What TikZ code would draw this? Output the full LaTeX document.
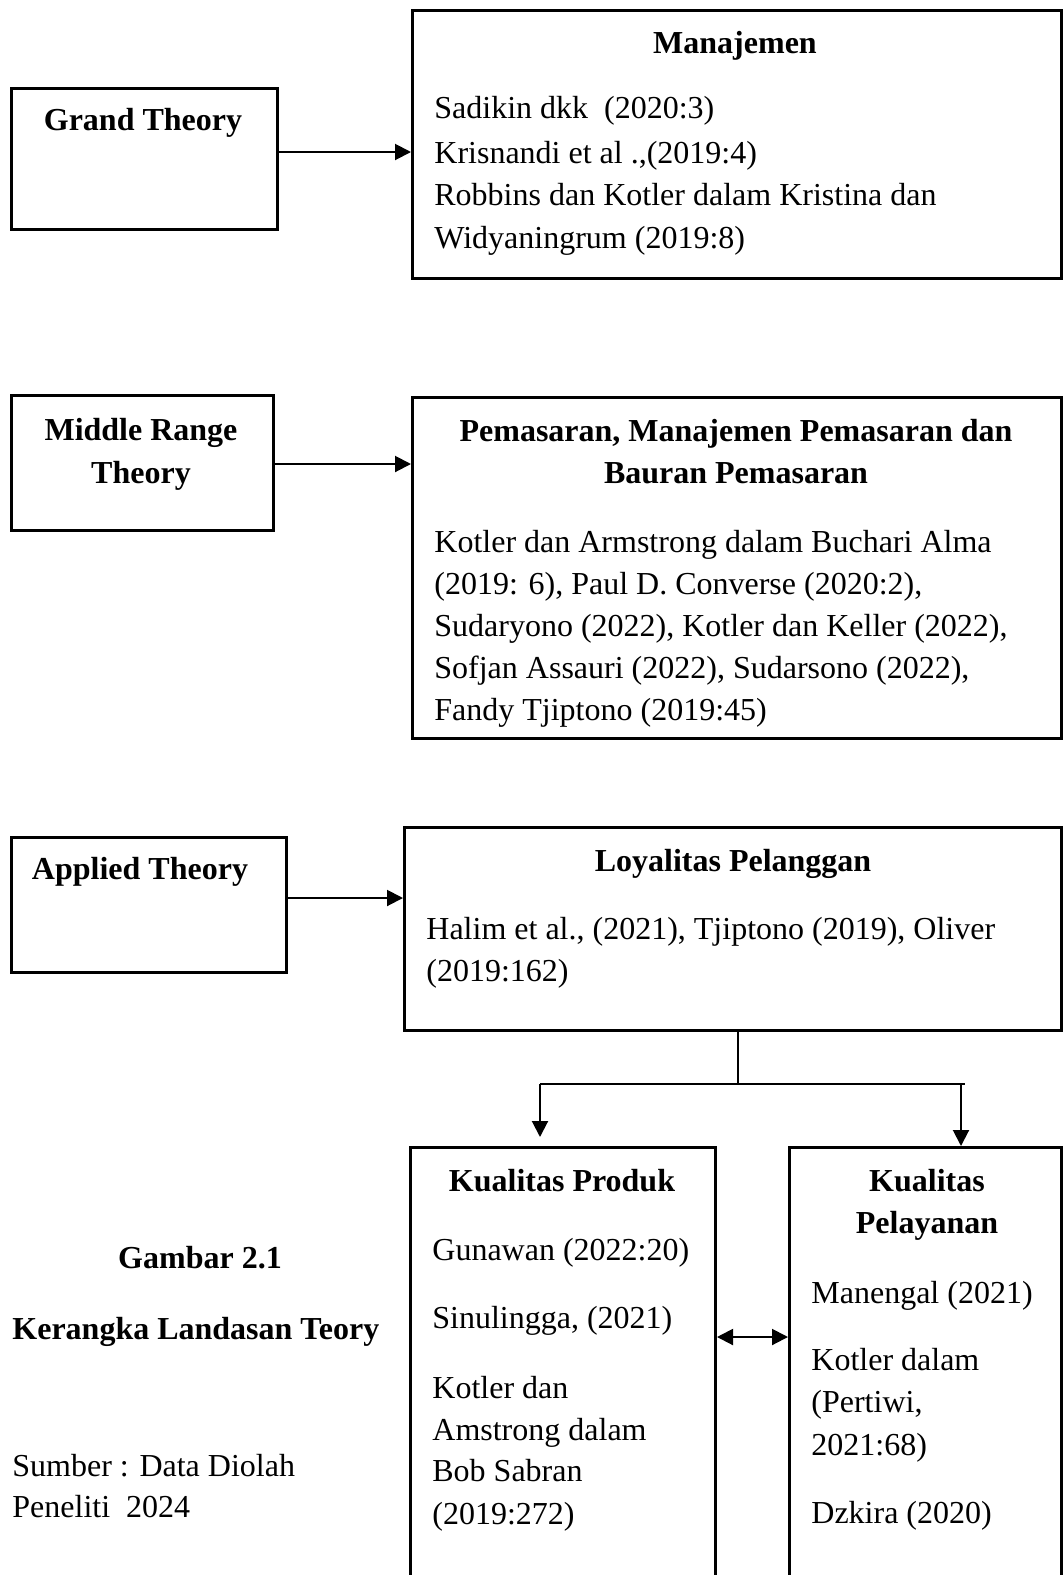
\documentclass[tikz,border=0pt]{standalone}
\usepackage{fontspec}
\setmainfont{Liberation Serif}
\usetikzlibrary{arrows.meta}
\begin{document}
\begin{tikzpicture}[x=0.5pt,y=-0.5pt,
 box/.style={draw, line width=1.5pt, anchor=north west, inner sep=0pt},
 tx/.style={anchor=base west, inner sep=0pt, font=\fontsize{16pt}{21.5pt}\selectfont},
 tc/.style={anchor=base, inner sep=0pt, font=\fontsize{16pt}{21.5pt}\selectfont\bfseries},
 tb/.style={anchor=base west, inner sep=0pt, font=\fontsize{16pt}{21.5pt}\selectfont\bfseries},
 arr/.style={line width=1pt, -{Triangle[length=8pt,width=8pt]}},
 darr/.style={line width=1pt, {Triangle[length=8pt,width=8pt]}-{Triangle[length=8pt,width=8pt]}},
 ln/.style={line width=1pt}]
\clip (0,0) rectangle (1064,1575);
\fill[white] (0,0) rectangle (1064,1575);
% boxes
\node[box, minimum width=133pt, minimum height=70.5pt] (grand) at (10,87) {};
\node[box, minimum width=324.5pt, minimum height=134pt] (man) at (411,9) {};
\node[box, minimum width=131pt, minimum height=67.5pt] (mid) at (10,394) {};
\node[box, minimum width=324.5pt, minimum height=170.5pt] (pem) at (411,396) {};
\node[box, minimum width=137.5pt, minimum height=67.5pt] (app) at (10,836) {};
\node[box, minimum width=328.5pt, minimum height=101.5pt] (loy) at (403,826) {};
\node[box, minimum width=152.5pt, minimum height=230pt] (kp) at (409,1146) {};
\node[box, minimum width=136pt, minimum height=230pt] (kpl) at (788,1146) {};
% texts
\node[tc] (g1) at (143,130) {Grand Theory};
\node[tc] (m0) at (735,53) {Manajemen};
\node[tx] (m1) at (434,118) {Sadikin dkk\ \ (2020:3)};
\node[tx] (m2) at (434,163) {Krisnandi et al .,(2019:4)};
\node[tx] (m3) at (434,205) {Robbins dan Kotler dalam Kristina dan};
\node[tx] (m4) at (434,248) {Widyaningrum (2019:8)};
\node[tc] (mr1) at (141,440) {Middle Range};
\node[tc] (mr2) at (141,483) {Theory};
\node[tc] (p0) at (736,441) {Pemasaran, Manajemen Pemasaran dan};
\node[tc] (p00) at (736,483) {Bauran Pemasaran};
\node[tx] (p1) at (434,552) {Kotler dan Armstrong dalam Buchari Alma};
\node[tx] (p2) at (434,594) {(2019: 6), Paul D. Converse (2020:2),};
\node[tx] (p3) at (434,636) {Sudaryono (2022), Kotler dan Keller (2022),};
\node[tx] (p4) at (434,678) {Sofjan Assauri (2022), Sudarsono (2022),};
\node[tx] (p5) at (434,720) {Fandy Tjiptono (2019:45)};
\node[tc] (a1) at (140,879) {Applied Theory};
\node[tc] (l0) at (733,871) {Loyalitas Pelanggan};
\node[tx] (l1) at (426,939) {Halim et al., (2021), Tjiptono (2019), Oliver};
\node[tx] (l2) at (426,981) {(2019:162)};
\node[tc] (k0) at (562,1191) {Kualitas Produk};
\node[tx] (k1) at (432,1260) {Gunawan (2022:20)};
\node[tx] (k2) at (432,1328) {Sinulingga, (2021)};
\node[tx] (k3) at (432,1398) {Kotler dan};
\node[tx] (k4) at (432,1440) {Amstrong dalam};
\node[tx] (k5) at (432,1481) {Bob Sabran};
\node[tx] (k6) at (432,1524) {(2019:272)};
\node[tc] (q0) at (927,1191) {Kualitas};
\node[tc] (q00) at (927,1233) {Pelayanan};
\node[tx] (q1) at (811,1303) {Manengal (2021)};
\node[tx] (q2) at (811,1370) {Kotler dalam};
\node[tx] (q3) at (811,1412) {(Pertiwi,};
\node[tx] (q4) at (811,1455) {2021:68)};
\node[tx] (q5) at (811,1523) {Dzkira (2020)};
\node[tc] (c1) at (200,1268) {Gambar 2.1};
\node[tb] (c2) at (12,1339) {Kerangka Landasan Teory};
\node[tx] (c3) at (12,1476) {Sumber : Data Diolah};
\node[tx] (c4) at (12,1517) {Peneliti\ \ 2024};
% connectors
\coordinate (y1) at (0,152);
\coordinate (y2) at (0,464);
\coordinate (y3) at (0,898);
\draw[arr] (grand.east |- y1) -- (man.west |- y1);
\draw[arr] (mid.east |- y2) -- (pem.west |- y2);
\draw[arr] (app.east |- y3) -- (loy.west |- y3);
\coordinate (j) at (738,1084);
\coordinate (jl) at (540,1084);
\coordinate (jr) at (965,1084);
\coordinate (jr2) at (961,1084);
\coordinate (pl) at (540,1137);
\draw[ln] (loy.south -| j) -- (j);
\draw[ln] (jl) -- (jr);
\draw[arr] (jl) -- (pl);
\draw[arr] (jr2) -- (jr2 |- kpl.north);
\coordinate (d) at (750,1337);
\draw[darr] (kp.east |- d) -- (kpl.west |- d);
\end{tikzpicture}
\end{document}
